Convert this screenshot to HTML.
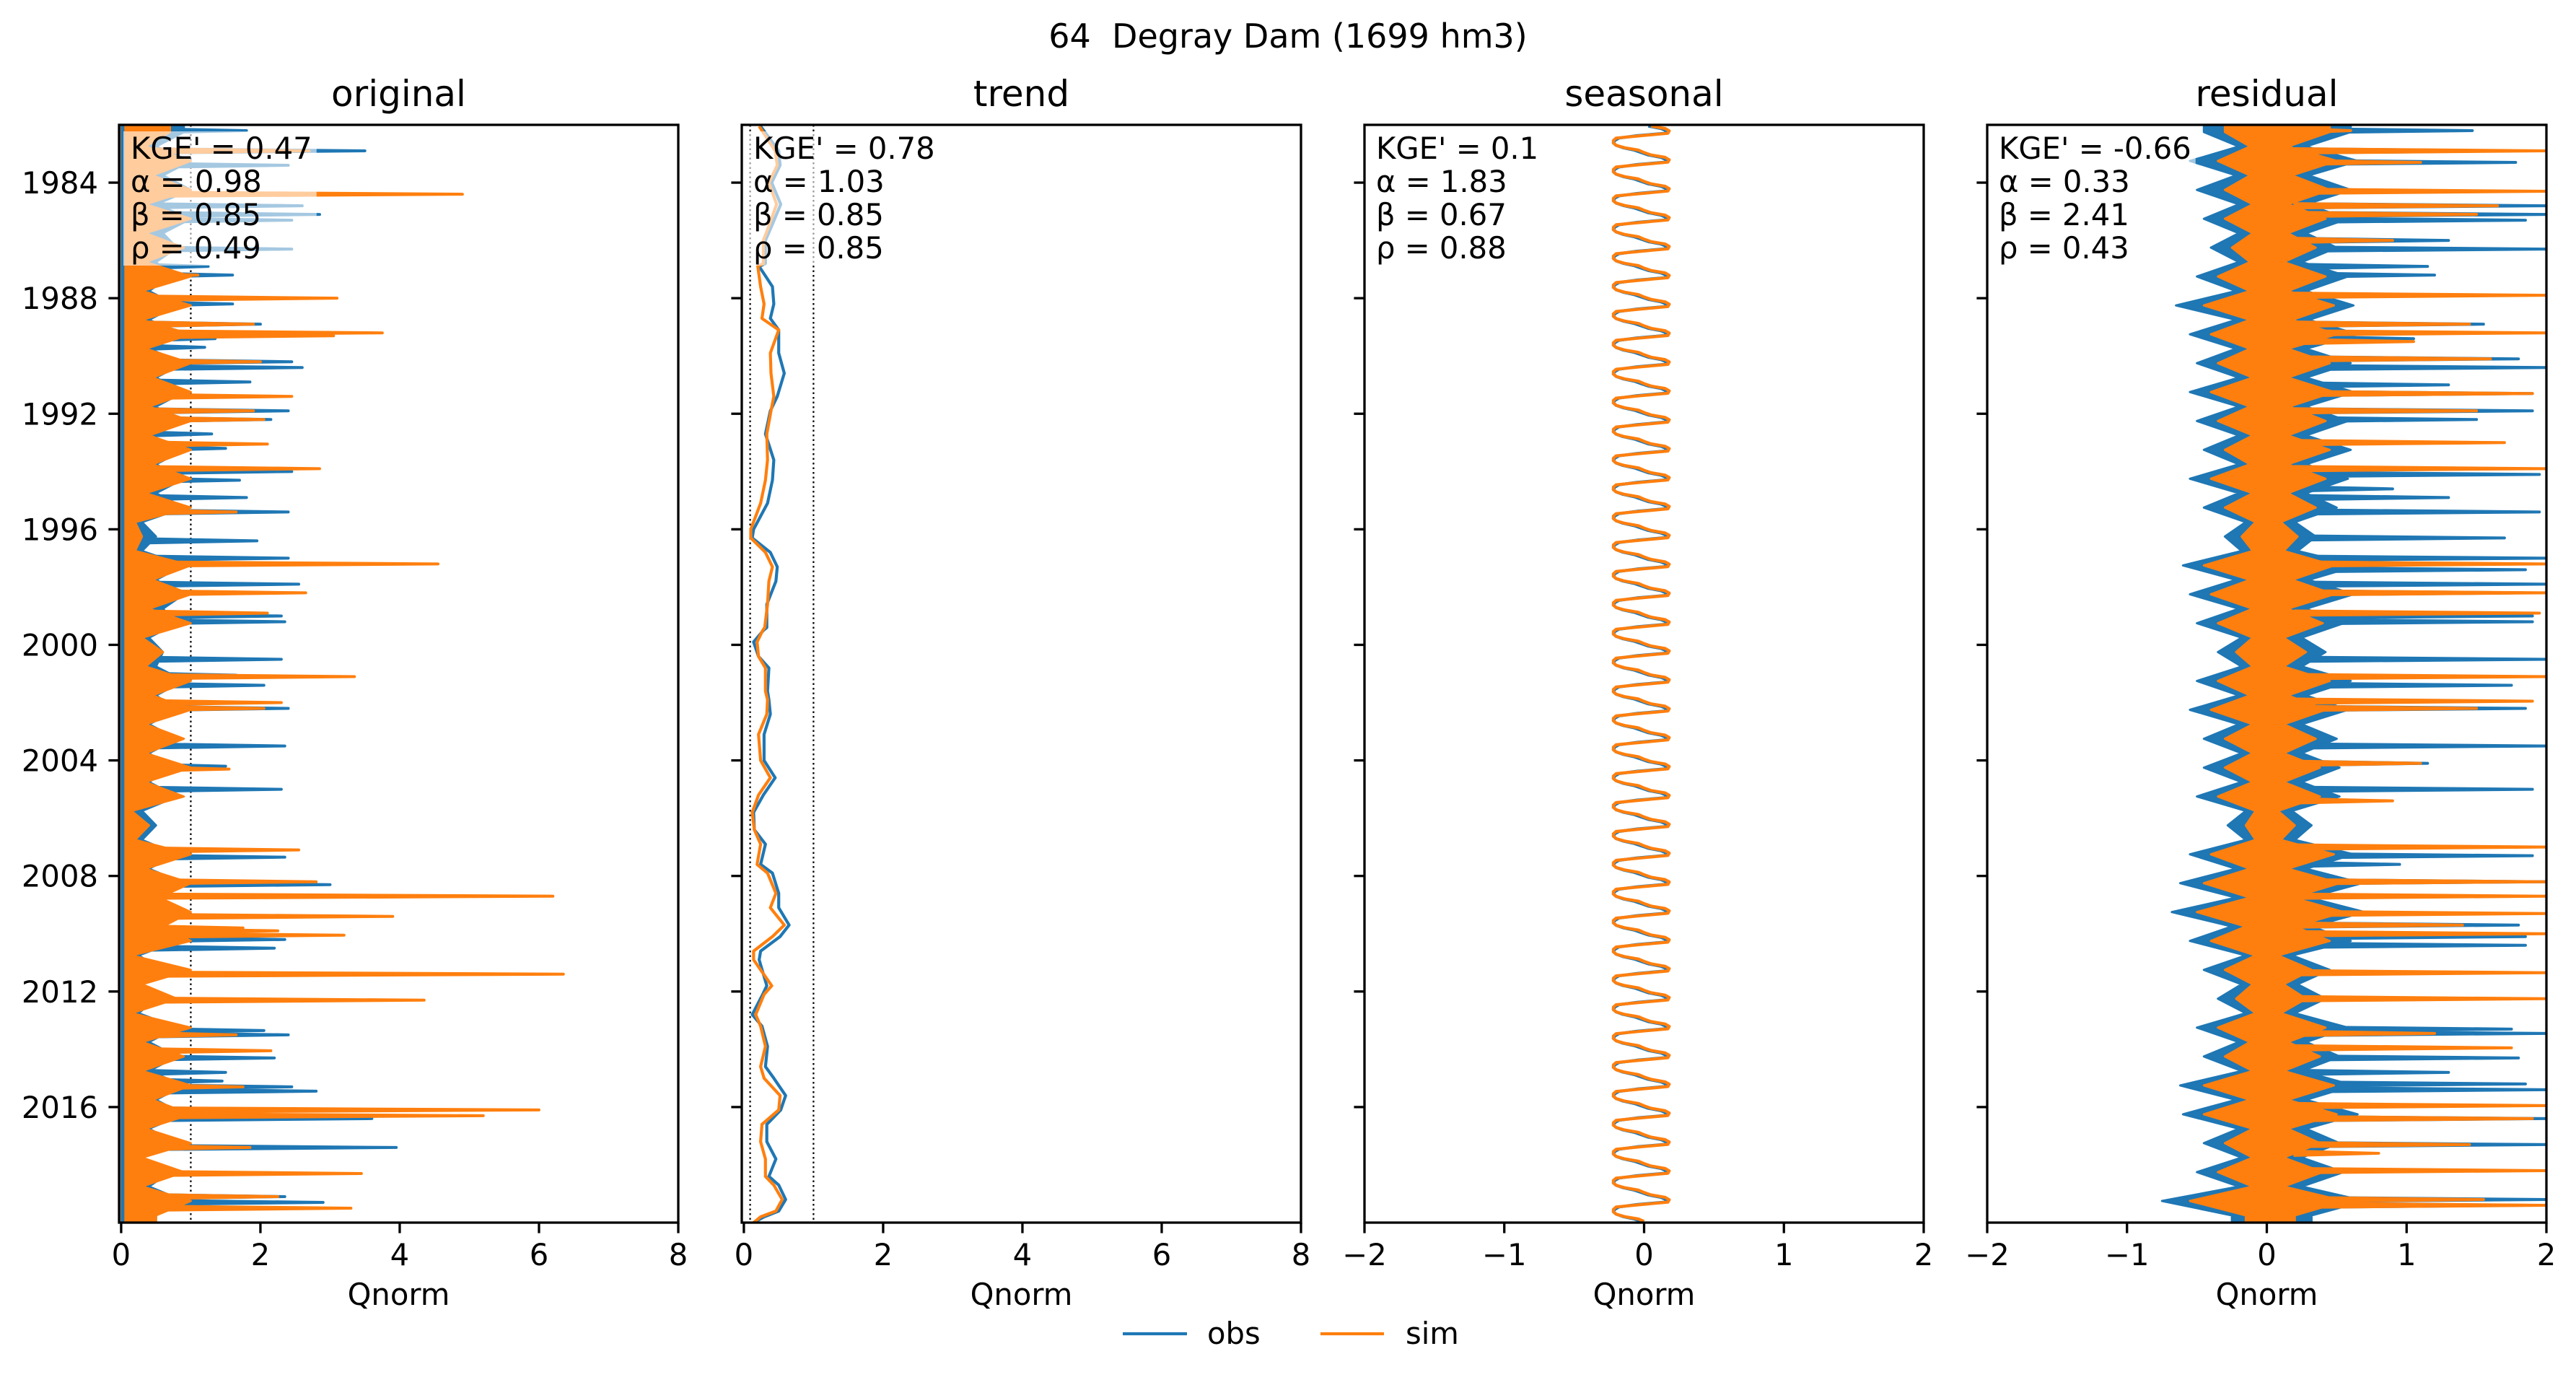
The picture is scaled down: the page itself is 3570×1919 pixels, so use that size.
<!DOCTYPE html>
<html><head><meta charset="utf-8"><title>64 Degray Dam</title>
<style>
html,body{margin:0;padding:0;background:#fff;}
svg{display:block;font-family:"DejaVu Sans","Liberation Sans",sans-serif;}
</style></head>
<body>
<svg id="fig" xmlns="http://www.w3.org/2000/svg" width="3570" height="1919" viewBox="0 0 3570 1919">
<rect x="0" y="0" width="3570" height="1919" fill="#fff"/>
<text x="1785" y="66" font-size="46" text-anchor="middle" xml:space="preserve">64  Degray Dam (1699 hm3)</text>
<g id="plots"></g>
<g>
<line x1="1556" y1="1848" x2="1645" y2="1848" stroke="#1f77b4" stroke-width="4.2"/>
<text x="1673" y="1862" font-size="41.7">obs</text>
<line x1="1830" y1="1848" x2="1918" y2="1848" stroke="#ff7f0e" stroke-width="4.2"/>
<text x="1948" y="1862" font-size="41.7">sim</text>
</g>
</svg>
<script>
// ---------- data ----------
const yearTicks = [1984,1988,1992,1996,2000,2004,2008,2012,2016];
const xTicksQ = [0,2,4,6,8];
const xTicksR = [-2,-1,0,1,2];
const xTickLabelsR = ["\u22122","\u22121","0","1","2"];
const panelTitles = ["original","trend","seasonal","residual"];
const statsOriginal = ["KGE' = 0.47","\u03b1 = 0.98","\u03b2 = 0.85","\u03c1 = 0.49"];
const statsTrend = ["KGE' = 0.78","\u03b1 = 1.03","\u03b2 = 0.85","\u03c1 = 0.85"];
const statsSeasonal = ["KGE' = 0.1","\u03b1 = 1.83","\u03b2 = 0.67","\u03c1 = 0.88"];
const statsResidual = ["KGE' = -0.66","\u03b1 = 0.33","\u03b2 = 2.41","\u03c1 = 0.43"];
const refLines = [0.09, 1.0];

// original: half-year envelopes 1982..2019 (H1,H2)
const origSimEnv = [0.7,0.35, 1.0,0.45, 1.0,0.35, 1.0,0.35, 0.9,0.35, 1.0,0.3, 1.0,0.3, 1.0,0.35, 1.0,0.45, 1.0,0.4,
 1.0,0.4, 1.0,0.45, 1.0,0.35, 1.0,0.2, 0.3,0.2, 1.0,0.45, 1.0,0.4, 1.0,0.3, 0.6,0.35, 1.0,0.45,
 1.0,0.35, 0.9,0.35, 1.0,0.35, 0.9,0.15, 0.4,0.2, 1.0,0.35, 1.0,0.55, 1.0,0.6, 1.0,0.15, 1.0,0.3,
 0.8,0.15, 1.0,0.3, 0.9,0.3, 1.0,0.45, 1.0,0.35, 1.0,0.3, 0.9,0.3, 1.0,0.5];
const origObsEnv = [0.9,0.5, 1.0,0.6, 1.0,0.5, 1.0,0.6, 0.8,0.5, 0.7,0.4, 0.8,0.4, 0.9,0.4, 0.9,0.5, 0.9,0.5,
 0.8,0.4, 0.9,0.5, 0.9,0.5, 0.9,0.3, 0.5,0.3, 0.9,0.5, 0.9,0.6, 0.8,0.4, 0.6,0.5, 0.9,0.5,
 0.8,0.4, 0.8,0.4, 0.7,0.4, 0.8,0.3, 0.5,0.3, 0.8,0.4, 0.9,0.5, 0.9,0.6, 0.8,0.25, 0.6,0.3,
 0.5,0.25, 0.8,0.4, 0.8,0.4, 0.9,0.5, 0.9,0.4, 0.8,0.3, 0.7,0.4, 0.9,0.5];
const obsSpikeYears = [1982.2,1982.9,1983.4,1984.8,1985.1,1985.3,1986.3,1986.9,1987.2,1988.2,1988.9,1989.4,1989.7,1990.2,1990.4,1990.9,1991.9,1992.2,1992.7,1993.2,1994.0,1994.3,1994.9,1995.4,1996.4,1997.0,1997.2,1997.9,1998.2,1999.0,1999.2,2000.5,2001.05,2001.4,2002.2,2003.5,2004.2,2005.0,2007.35,2008.2,2008.3,2010.2,2010.5,2011.4,2013.35,2013.5,2014.3,2014.8,2015.1,2015.3,2015.45,2016.1,2016.4,2017.4,2018.3,2019.1,2019.3];
const obsSpikeVals = [1.8,3.5,2.4,2.6,2.85,2.45,2.45,1.25,1.6,1.6,2.0,1.35,1.2,2.45,2.6,1.85,2.4,2.15,1.3,1.5,2.45,1.7,1.8,2.4,1.95,2.4,2.45,2.55,2.35,2.3,2.35,2.3,1.65,2.05,2.4,2.35,1.5,2.3,2.35,2.3,3.0,2.35,2.2,2.65,2.05,2.4,2.2,1.5,1.45,2.45,2.8,4.05,3.6,3.95,2.5,2.35,2.9];
const simSpikeYears = [1982.9,1984.4,1987.2,1988.0,1988.9,1989.2,1989.3,1990.2,1991.4,1991.9,1992.2,1993.05,1993.9,1995.4,1997.2,1998.2,1998.9,2001.1,2002.0,2002.2,2004.3,2007.1,2008.2,2008.7,2009.4,2009.8,2009.9,2010.05,2011.4,2012.3,2013.5,2014.05,2015.3,2016.1,2016.3,2017.4,2018.3,2019.1,2019.5];
const simSpikeVals = [2.7,4.9,1.1,3.1,1.9,3.75,3.05,2.0,2.45,1.9,2.05,2.1,2.85,1.65,4.55,2.65,2.1,3.35,2.3,2.05,1.55,2.55,2.8,6.2,3.9,1.75,2.25,3.2,6.35,4.35,1.65,2.15,1.75,6.0,5.2,1.85,3.45,2.25,3.3];

// trend
const trendYears = [1982.05,1982.9,1983.4,1984.0,1984.75,1985.5,1986.0,1986.8,1986.9,1987.6,1988.2,1988.7,1989.1,1989.9,1990.6,1991.4,1991.9,1992.7,1993.6,1994.3,1995.1,1996.0,1996.3,1996.8,1997.3,1997.8,1998.6,1999.4,1999.5,1999.9,2000.4,2000.8,2001.6,2001.9,2002.4,2003.1,2004.0,2004.6,2005.2,2005.8,2006.4,2006.9,2007.6,2007.9,2008.6,2009.1,2009.7,2010.1,2010.6,2010.9,2011.8,2012.1,2012.8,2013.2,2013.9,2014.6,2015.0,2015.6,2016.1,2016.6,2017.2,2017.8,2018.4,2018.7,2019.2,2019.6,2019.8,2020.0];
const trendObs = [0.24,0.5,0.52,0.4,0.53,0.4,0.31,0.31,0.22,0.41,0.43,0.38,0.5,0.5,0.58,0.48,0.38,0.31,0.43,0.41,0.34,0.14,0.12,0.38,0.48,0.46,0.33,0.33,0.28,0.14,0.21,0.36,0.34,0.36,0.38,0.29,0.29,0.45,0.28,0.14,0.15,0.31,0.24,0.41,0.5,0.5,0.65,0.52,0.24,0.22,0.33,0.27,0.12,0.26,0.34,0.31,0.43,0.6,0.53,0.33,0.33,0.46,0.36,0.5,0.6,0.5,0.29,0.14];
const trendSim = [0.22,0.45,0.48,0.36,0.47,0.36,0.28,0.28,0.2,0.24,0.29,0.26,0.5,0.38,0.39,0.43,0.39,0.33,0.34,0.31,0.24,0.1,0.1,0.31,0.41,0.36,0.34,0.3,0.27,0.19,0.21,0.31,0.31,0.34,0.33,0.21,0.24,0.38,0.21,0.12,0.15,0.24,0.19,0.34,0.46,0.38,0.58,0.41,0.14,0.14,0.4,0.29,0.17,0.24,0.31,0.24,0.29,0.52,0.5,0.26,0.24,0.31,0.31,0.43,0.55,0.46,0.24,0.14];

// seasonal (monthly climatology, Jan..Dec)
const seasonalObs = [0.03,0.12,0.16,0.15,-0.05,-0.18,-0.21,-0.22,-0.2,-0.15,-0.07,-0.02];
const seasonalSim = [0.05,0.15,0.18,0.17,-0.02,-0.2,-0.22,-0.22,-0.2,-0.14,-0.04,0.0];

// residual half-year envelopes 1982..2019 (H1 wet, H2 dry)
const resSimLo = [-0.3,-0.12, -0.35,-0.12, -0.3,-0.1, -0.3,-0.1, -0.25,-0.12, -0.35,-0.12, -0.45,-0.12, -0.4,-0.12, -0.35,-0.1, -0.4,-0.12,
 -0.35,-0.1, -0.3,-0.12, -0.4,-0.1, -0.3,-0.08, -0.18,-0.1, -0.45,-0.12, -0.4,-0.1, -0.35,-0.1, -0.22,-0.1, -0.35,-0.12,
 -0.4,-0.1, -0.3,-0.1, -0.3,-0.1, -0.35,-0.08, -0.15,-0.08, -0.4,-0.12, -0.45,-0.12, -0.5,-0.15, -0.4,-0.08, -0.3,-0.1,
 -0.22,-0.08, -0.35,-0.12, -0.3,-0.1, -0.45,-0.12, -0.45,-0.1, -0.3,-0.1, -0.35,-0.1, -0.55,-0.15];
const resSimHi = [0.45,0.15, 0.5,0.18, 0.45,0.15, 0.42,0.15, 0.35,0.12, 0.42,0.15, 0.48,0.18, 0.5,0.15, 0.45,0.15, 0.48,0.16,
 0.42,0.15, 0.45,0.15, 0.42,0.15, 0.35,0.1, 0.22,0.12, 0.48,0.18, 0.48,0.15, 0.4,0.12, 0.28,0.12, 0.45,0.15,
 0.42,0.12, 0.35,0.12, 0.38,0.12, 0.38,0.08, 0.2,0.1, 0.48,0.15, 0.52,0.18, 0.55,0.2, 0.45,0.08, 0.32,0.12,
 0.28,0.1, 0.42,0.15, 0.38,0.12, 0.48,0.15, 0.5,0.15, 0.38,0.12, 0.4,0.12, 0.55,0.2];
const resObsLo = [-0.45,-0.2, -0.55,-0.22, -0.5,-0.2, -0.45,-0.2, -0.4,-0.2, -0.5,-0.22, -0.65,-0.22, -0.55,-0.22, -0.5,-0.2, -0.55,-0.2,
 -0.5,-0.2, -0.45,-0.2, -0.55,-0.2, -0.45,-0.15, -0.3,-0.18, -0.6,-0.22, -0.55,-0.2, -0.5,-0.18, -0.35,-0.18, -0.5,-0.2,
 -0.55,-0.2, -0.45,-0.18, -0.45,-0.18, -0.5,-0.15, -0.28,-0.15, -0.55,-0.22, -0.62,-0.22, -0.68,-0.25, -0.55,-0.15, -0.45,-0.18,
 -0.35,-0.15, -0.5,-0.2, -0.45,-0.18, -0.62,-0.22, -0.6,-0.2, -0.45,-0.18, -0.5,-0.2, -0.75,-0.25];
const resObsHi = [0.6,0.28, 0.65,0.3, 0.6,0.28, 0.58,0.28, 0.5,0.25, 0.58,0.28, 0.62,0.3, 0.65,0.28, 0.6,0.28, 0.62,0.28,
 0.58,0.28, 0.6,0.28, 0.58,0.28, 0.5,0.2, 0.35,0.22, 0.65,0.3, 0.62,0.28, 0.55,0.25, 0.42,0.25, 0.6,0.28,
 0.58,0.25, 0.5,0.25, 0.52,0.25, 0.52,0.18, 0.32,0.2, 0.62,0.28, 0.68,0.3, 0.7,0.32, 0.6,0.18, 0.45,0.22,
 0.42,0.2, 0.58,0.28, 0.52,0.25, 0.62,0.28, 0.65,0.28, 0.52,0.25, 0.55,0.25, 0.7,0.32];
const resObsSpikeYears = [1982.2,1982.9,1983.3,1984.3,1984.8,1985.1,1985.3,1986.0,1986.3,1986.9,1987.2,1988.9,1989.4,1990.1,1990.4,1991.0,1991.3,1991.9,1992.2,1994.1,1994.6,1994.9,1995.4,1996.3,1997.0,1997.4,1997.9,1998.2,1999.0,1999.2,2000.5,2001.1,2001.4,2002.2,2003.5,2004.1,2005.0,2007.3,2007.6,2008.2,2009.7,2010.1,2010.4,2013.3,2013.45,2014.3,2014.8,2015.2,2015.4,2016.4,2017.3,2019.2,2019.4];
const resObsSpikeVals = [1.47,1.76,1.78,1.5,2.0,2.0,1.85,1.3,2.0,1.15,1.2,1.55,1.05,1.8,2.0,1.3,1.9,1.9,1.5,1.95,0.9,1.3,1.95,1.7,2.0,1.85,2.0,1.85,1.9,1.9,2.0,1.2,1.75,1.85,2.0,1.15,1.9,1.9,0.95,2.0,1.8,1.85,1.85,1.75,2.0,1.8,1.3,1.85,2.0,2.0,2.0,2.0,1.85];
const resSimSpikeYears = [1982.2,1982.9,1983.3,1984.3,1984.8,1985.1,1986.0,1987.9,1988.9,1989.2,1989.5,1990.1,1991.3,1991.9,1993.0,1993.9,1997.2,1998.2,1998.9,2001.1,2001.95,2002.2,2004.1,2005.4,2007.0,2008.2,2008.7,2009.3,2009.7,2010.0,2011.35,2012.25,2013.45,2013.95,2015.95,2016.4,2017.3,2017.6,2018.2,2019.2,2019.4];
const resSimSpikeVals = [0.6,2.0,1.1,2.0,1.65,1.5,0.9,2.0,1.45,2.0,1.05,1.6,1.9,1.5,1.7,2.0,2.0,2.0,1.95,2.0,1.9,1.5,1.1,0.9,2.0,2.0,2.0,2.0,1.4,2.0,2.0,2.0,1.2,1.75,2.0,1.9,1.45,0.8,2.0,1.55,2.0];

// ---------- layout ----------
const NS = "http://www.w3.org/2000/svg";
const LEFTS = [165,1028,1891,2754], W = 775, TOP = 173, BOT = 1694;
const DOMS = [[-0.03,8],[-0.03,8],[-2,2],[-2,2]];
const BLUE = "#1f77b4", ORANGE = "#ff7f0e";
const FS = 41.7;
function yS(yr){ return TOP + (yr - 1982) * (BOT - TOP) / 38.0; }
function xS(p, v){ const d = DOMS[p]; return LEFTS[p] + (v - d[0]) / (d[1] - d[0]) * W; }
function mk(tag, attrs, parent){
  const e = document.createElementNS(NS, tag);
  for (const k in attrs) e.setAttribute(k, attrs[k]);
  parent.appendChild(e); return e;
}
const root = document.getElementById("plots");
const defs = mk("defs", {}, root);
for (let p = 0; p < 4; p++){
  const cp = mk("clipPath", {id: "clip" + p}, defs);
  mk("rect", {x: LEFTS[p], y: TOP, width: W, height: BOT - TOP}, cp);
}
function halfYears(){ const a = []; for (let y = 1982; y < 2020; y++){ a.push(y + 0.25); a.push(y + 0.75); } return a; }
const HY = halfYears();

function envPoly(p, g, loArr, hiArr, color, name){
  let pts = [];
  for (let i = 0; i < HY.length; i++) pts.push(xS(p, hiArr[i]).toFixed(1) + "," + yS(HY[i]).toFixed(1));
  pts.unshift(xS(p, hiArr[0]).toFixed(1) + "," + yS(1982).toFixed(1));
  pts.push(xS(p, hiArr[hiArr.length-1]).toFixed(1) + "," + yS(2020).toFixed(1));
  let back = [];
  back.push(xS(p, loArr ? loArr[loArr.length-1] : 0).toFixed(1) + "," + yS(2020).toFixed(1));
  for (let i = HY.length - 1; i >= 0; i--) back.push(xS(p, loArr ? loArr[i] : 0).toFixed(1) + "," + yS(HY[i]).toFixed(1));
  back.push(xS(p, loArr ? loArr[0] : 0).toFixed(1) + "," + yS(1982).toFixed(1));
  const el = mk("polygon", {points: pts.concat(back).join(" "), fill: color, stroke: color, "stroke-width": 3, "stroke-linejoin": "round"}, g);
  
  
}
function spikes(p, g, years, vals, base, color, name){
  for (let i = 0; i < years.length; i++){
    const el = mk("path", {d: "M" + xS(p, base) + "," + (yS(years[i]) - 3) + " L" + xS(p, vals[i]) + "," + yS(years[i]) + " L" + xS(p, base) + "," + (yS(years[i]) + 3) + "Z",
      fill: color, stroke: color, "stroke-width": 4, "stroke-linejoin": "round"}, g);
    
    
  }
}
function polyline(p, g, years, vals, color, name){
  const pts = years.map((y, i) => xS(p, vals[i]).toFixed(1) + "," + yS(y).toFixed(1)).join(" ");
  const el = mk("polyline", {points: pts, fill: "none", stroke: color, "stroke-width": 4.2, "stroke-linejoin": "round"}, g);
  
  
}

const statsAll = [statsOriginal, statsTrend, statsSeasonal, statsResidual];
for (let p = 0; p < 4; p++){
  const L = LEFTS[p];
  const g = mk("g", {}, root);
  
  
  const t = mk("text", {x: L + W/2, y: 147, "font-size": 50, "text-anchor": "middle"}, g);
  t.textContent = panelTitles[p];
  
  

  const dg = mk("g", {"clip-path": "url(#clip" + p + ")"}, g);
  
  

  if (p < 2){
    for (const r of refLines){
      const ln = mk("line", {x1: xS(p, r), x2: xS(p, r), y1: TOP, y2: BOT, stroke: "#000", "stroke-width": 2.2, "stroke-dasharray": "2.5,4"}, dg);
      
      
    }
  }
  if (p === 0){
    envPoly(p, dg, null, origObsEnv, BLUE, 'obs-envelope');
    spikes(p, dg, obsSpikeYears, obsSpikeVals, 0.3, BLUE, 'obs-spike');
    envPoly(p, dg, null, origSimEnv, ORANGE, 'sim-envelope');
    spikes(p, dg, simSpikeYears, simSpikeVals, 0.3, ORANGE, 'sim-spike');
    const bl = mk("line", {x1: xS(p, 0.02), x2: xS(p, 0.02), y1: TOP, y2: BOT, stroke: BLUE, "stroke-width": 5}, dg);
    
    
  } else if (p === 1){
    polyline(p, dg, trendYears, trendObs, BLUE, 'obs-trend-line');
    polyline(p, dg, trendYears, trendSim, ORANGE, 'sim-trend-line');
  } else if (p === 2){
    const sy = [], so = [], ss = [];
    for (let y = 1982; y < 2020; y++) for (let m = 0; m < 12; m++){ sy.push(y + (m + 0.5) / 12); so.push(seasonalObs[m]); ss.push(seasonalSim[m]); }
    polyline(p, dg, sy, so, BLUE, 'obs-seasonal-line');
    polyline(p, dg, sy, ss, ORANGE, 'sim-seasonal-line');
  } else {
    envPoly(p, dg, resObsLo, resObsHi, BLUE, 'obs-residual-envelope');
    spikes(p, dg, resObsSpikeYears, resObsSpikeVals, 0.2, BLUE, 'obs-residual-spike');
    envPoly(p, dg, resSimLo, resSimHi, ORANGE, 'sim-residual-envelope');
    spikes(p, dg, resSimSpikeYears, resSimSpikeVals, 0.2, ORANGE, 'sim-residual-spike');
  }

  // stats text with translucent box
  const stats = statsAll[p];
  const tg = mk("g", {}, g);
  
  
  const box = mk("rect", {x: L + 6, y: 182, width: 10, height: 186, fill: "#fff", "fill-opacity": 0.6}, tg);
  let maxW = 0;
  stats.forEach((s, i) => {
    const tx = mk("text", {x: L + 16, y: 220 + i * 46, "font-size": FS}, tg);
    tx.textContent = s;
    
    
    try { maxW = Math.max(maxW, tx.getComputedTextLength()); } catch(e) { maxW = 250; }
  });
  box.setAttribute("width", maxW + 16);

  // spines
  const sp = mk("rect", {x: L, y: TOP, width: W, height: BOT - TOP, fill: "none", stroke: "#000", "stroke-width": 3.3}, g);
  
  

  // y ticks
  yearTicks.forEach(yr => {
    const y = yS(yr);
    const tk = mk("line", {x1: L - 14.6, x2: L, y1: y, y2: y, stroke: "#000", "stroke-width": 3.3}, g);
    
    
    if (p === 0){
      const lb = mk("text", {x: L - 29, y: y + 15, "font-size": FS, "text-anchor": "end"}, g);
      lb.textContent = String(yr);
      
      
    }
  });
  // x ticks
  const xt = p < 2 ? xTicksQ : xTicksR;
  xt.forEach((v, i) => {
    const x = xS(p, v);
    const tk = mk("line", {x1: x, x2: x, y1: BOT, y2: BOT + 14.6, stroke: "#000", "stroke-width": 3.3}, g);
    
    
    const lb = mk("text", {x: x, y: 1753, "font-size": FS, "text-anchor": "middle"}, g);
    lb.textContent = p < 2 ? String(v) : xTickLabelsR[i];
    
    
  });
  const xl = mk("text", {x: L + W/2, y: 1808, "font-size": FS, "text-anchor": "middle"}, g);
  xl.textContent = "Qnorm";
  
  
}
</script>
</body></html>
